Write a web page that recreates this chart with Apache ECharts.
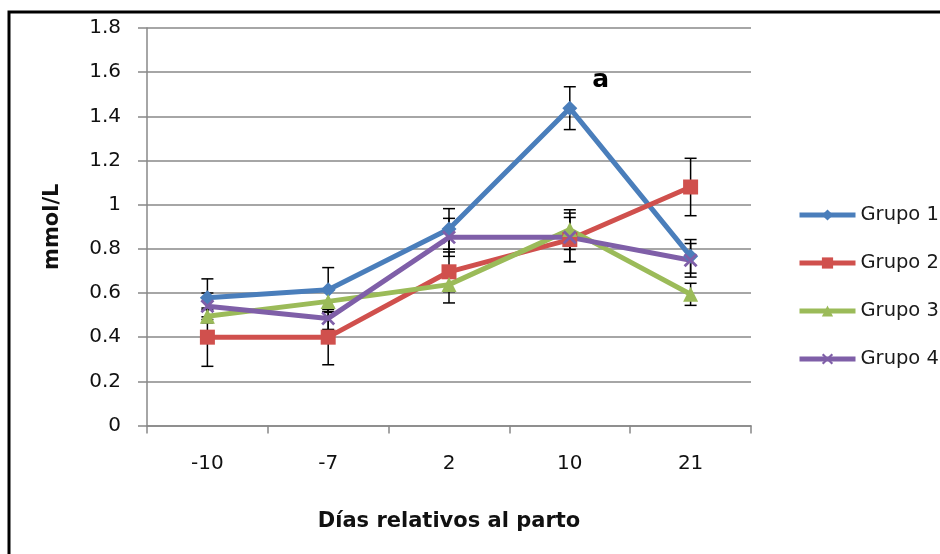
<!DOCTYPE html>
<html>
<head>
<meta charset="utf-8">
<script src="https://cdn.jsdelivr.net/npm/echarts@6/dist/echarts.min.js"></script>
<style>
html,body{margin:0;padding:0;background:#fff;}
#chart{width:940px;height:554px;}
</style>
</head>
<body>
<div id="chart"></div>
<script>
const categories = ['-10', '-7', '2', '10', '21'];
const seriesNames = ['Grupo 1', 'Grupo 2', 'Grupo 3', 'Grupo 4'];
const grupo1 = [0.578, 0.615, 0.89, 1.437, 0.766];
const grupo2 = [0.40, 0.40, 0.696, 0.842, 1.08];
const grupo3 = [0.495, 0.562, 0.638, 0.887, 0.594];
const grupo4 = [0.54, 0.485, 0.852, 0.852, 0.748];
const err1 = [0.086, 0.10, 0.092, 0.097, 0.076];
const err2 = [0.132, 0.125, 0.09, 0.10, 0.13];
const err3 = [0.03, 0.05, 0.083, 0.09, 0.05];
const err4 = [0.06, 0.05, 0.086, 0.11, 0.076];
const yTicks = [0, 0.2, 0.4, 0.6, 0.8, 1, 1.2, 1.4, 1.6, 1.8];
const annotation = 'a';

const values = [grupo1, grupo2, grupo3, grupo4];
const errors = [err1, err2, err3, err4];
const colors = ['#4A7EBB', '#D0504D', '#9BBB59', '#7F5FA8'];
const xPath = 'path://M0,1.4 L1.4,0 L5,3.6 L8.6,0 L10,1.4 L6.4,5 L10,8.6 L8.6,10 L5,6.4 L1.4,10 L0,8.6 L3.6,5 Z';
const symbols = ['diamond', 'rect', 'triangle', xPath];
const symbolSizes = [15, 15, 15, 14];

const FONT = 'DejaVu Sans';

const chart = echarts.init(document.getElementById('chart'), null, {renderer: 'canvas'});

function errorSeries(k) {
  const data = values[k].map((v, i) => [i, v - errors[k][i], v + errors[k][i]]);
  return {
    type: 'custom',
    name: seriesNames[k] + ' err',
    z: 1,
    silent: true,
    data: data,
    encode: {x: 0, y: [1, 2]},
    renderItem: function (params, api) {
      const x = api.value(0);
      const lo = api.coord([x, api.value(1)]);
      const hi = api.coord([x, api.value(2)]);
      const cap = 6;
      const style = {stroke: '#000', lineWidth: 1.5, fill: null};
      return {
        type: 'group',
        children: [
          {type: 'line', shape: {x1: lo[0], y1: lo[1], x2: hi[0], y2: hi[1]}, style: style},
          {type: 'line', shape: {x1: lo[0] - cap, y1: lo[1], x2: lo[0] + cap, y2: lo[1]}, style: style},
          {type: 'line', shape: {x1: hi[0] - cap, y1: hi[1], x2: hi[0] + cap, y2: hi[1]}, style: style}
        ]
      };
    }
  };
}

const lineSeries = values.map((vals, k) => {
  const s = {
    type: 'line',
    name: seriesNames[k],
    data: vals,
    z: 3,
    symbol: symbols[k],
    symbolSize: symbolSizes[k],
    showAllSymbol: true,
    lineStyle: {color: colors[k], width: 5},
    itemStyle: {color: colors[k], borderWidth: 0},
    emphasis: {disabled: true}
  };
  if (k === 0) {
    let peak = 0;
    vals.forEach((v, i) => { if (v > vals[peak]) peak = i; });
    s.markPoint = {
      symbol: 'circle',
      symbolSize: 1,
      itemStyle: {color: 'rgba(0,0,0,0)'},
      label: {
        show: true,
        formatter: annotation,
        offset: [31, -28],
        color: '#000',
        fontFamily: FONT,
        fontWeight: 'bold',
        fontSize: 25
      },
      data: [{coord: [peak, vals[peak]]}]
    };
  }
  return s;
});

const option = {
  animation: false,
  backgroundColor: '#fff',
  graphic: [{
    type: 'rect',
    shape: {x: 9, y: 12, width: 1000, height: 1000},
    style: {fill: null, stroke: '#000', lineWidth: 3},
    silent: true,
    z: 100
  }],
  grid: {left: 147, top: 28, width: 604, height: 397.5},
  legend: {
    orient: 'vertical',
    left: 792,
    top: 200,
    itemWidth: 56,
    itemHeight: 14,
    itemGap: 28,
    data: seriesNames,
    lineStyle: {width: 5},
    textStyle: {fontFamily: FONT, fontSize: 19.5, color: '#1a1a1a'}
  },
  xAxis: {
    type: 'category',
    data: categories,
    boundaryGap: true,
    name: 'Días relativos al parto',
    nameLocation: 'middle',
    nameGap: 86,
    nameTextStyle: {fontFamily: FONT, fontWeight: 'bold', fontSize: 21, color: '#111'},
    axisLine: {lineStyle: {color: '#888', width: 1.5}},
    axisTick: {show: true, length: 8, lineStyle: {color: '#888', width: 1.5}},
    axisLabel: {fontFamily: FONT, fontSize: 20, color: '#111', margin: 28},
    splitLine: {show: false}
  },
  yAxis: {
    type: 'value',
    min: yTicks[0],
    max: yTicks[yTicks.length - 1],
    interval: 0.2,
    name: 'mmol/L',
    nameLocation: 'middle',
    nameRotate: 90,
    nameGap: 84,
    nameTextStyle: {fontFamily: FONT, fontWeight: 'bold', fontSize: 21, color: '#111'},
    axisLine: {show: true, lineStyle: {color: '#888', width: 1.5}},
    axisTick: {show: true, length: 9, lineStyle: {color: '#888', width: 1.5}},
    axisLabel: {
      fontFamily: FONT, fontSize: 20, color: '#111', margin: 26,
      formatter: function (v) { return String(Math.round(v * 10) / 10); }
    },
    splitLine: {show: true, lineStyle: {color: '#888', width: 1.5}}
  },
  series: [errorSeries(0), errorSeries(1), errorSeries(2), errorSeries(3)].concat(lineSeries)
};

chart.setOption(option);
</script>
</body>
</html>
